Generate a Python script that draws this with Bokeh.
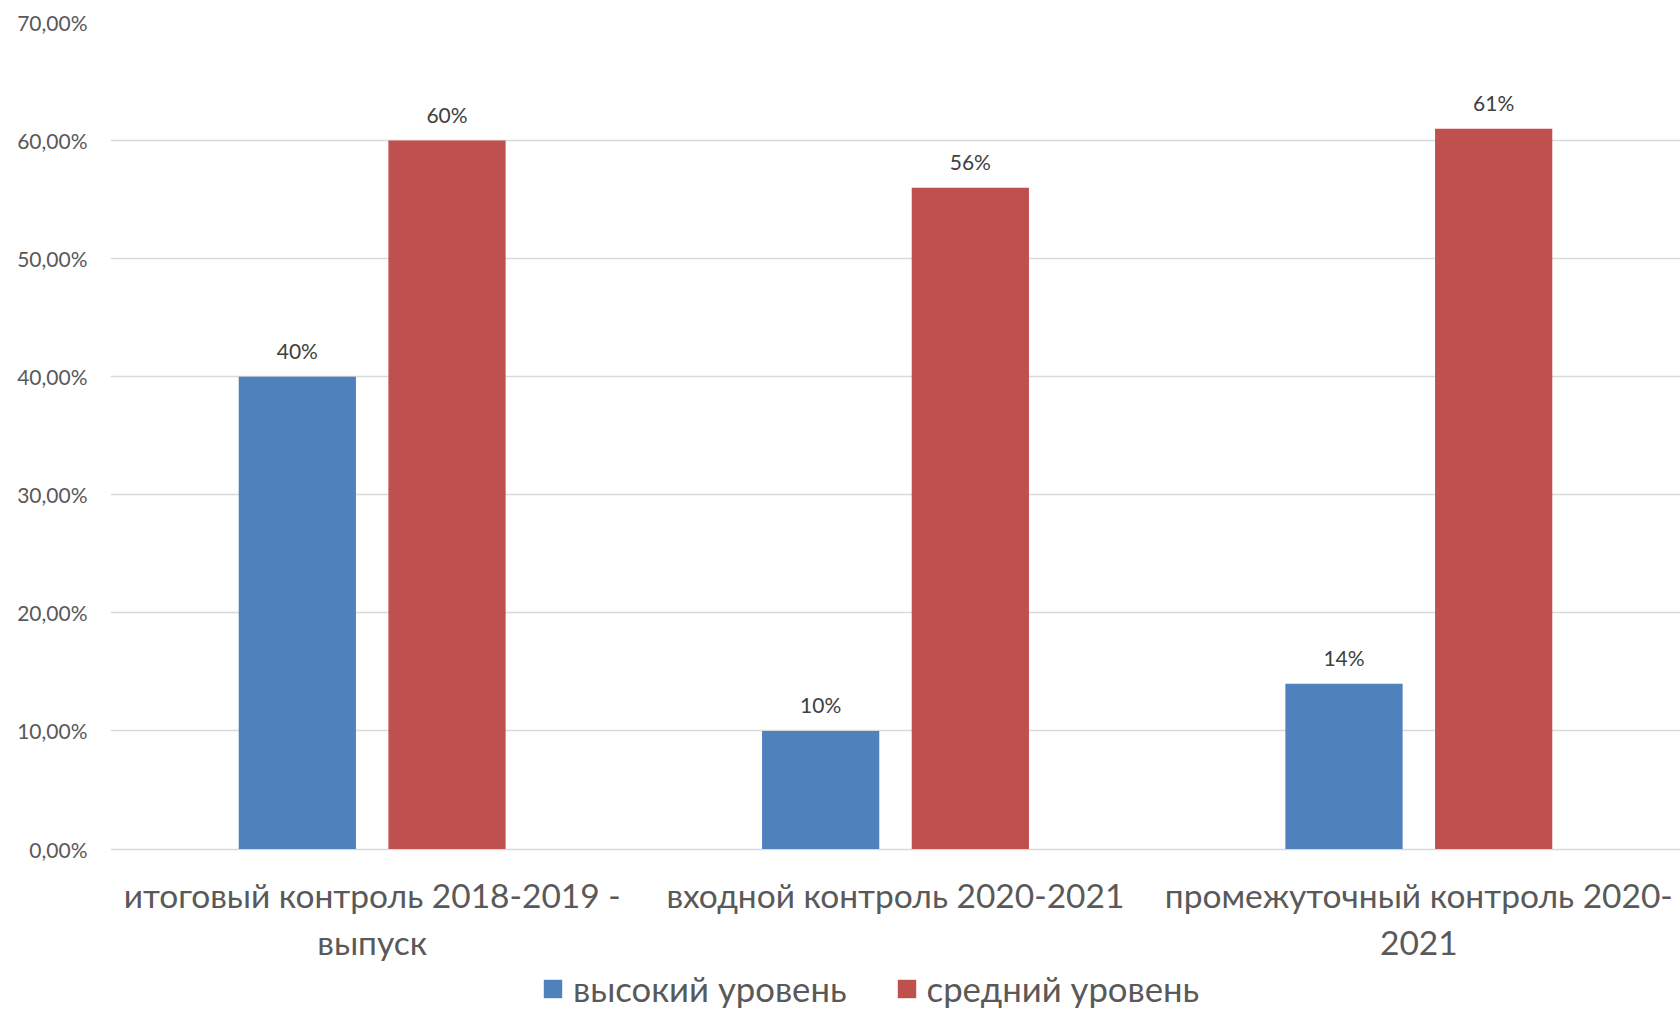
from bokeh.plotting import figure
from bokeh.models import ColumnDataSource, FactorRange, FixedTicker, Legend, LegendItem
from bokeh.transform import dodge
from bokeh.core.properties import value
from bokeh.embed import file_html
from bokeh.resources import INLINE

categories = ["итоговый контроль 2018-2019 -\nвыпуск",
              "входной контроль 2020-2021",
              "промежуточный контроль 2020-\n2021"]
high = [40, 10, 14]
mid = [60, 56, 61]
series_names = ["высокий уровень", "средний уровень"]
y_ticks = [0, 10, 20, 30, 40, 50, 60, 70]

FONT = "Lato"
BLUE = "#4f81bd"
RED = "#c0504d"

W, H = 1680, 1009
TOP, LEFT = 22.5, 110
ZERO_Y = 848.6
px_per_unit = (ZERO_Y - TOP) / y_ticks[-1]
y_min = -(H - ZERO_Y) / px_per_unit

src = ColumnDataSource(dict(
    cat=categories, high=high, mid=mid, base=[0] * len(categories),
    high_lbl=[f"{v}%" for v in high], mid_lbl=[f"{v}%" for v in mid],
))

p = figure(x_range=FactorRange(*categories), y_range=(y_min, y_ticks[-1]),
           width=W, height=H, output_backend="svg", toolbar_location=None,
           min_border_left=LEFT, min_border_right=0, min_border_top=int(TOP),
           min_border_bottom=0)
p.outline_line_color = None

r1 = p.vbar(x=dodge("cat", -0.143, range=p.x_range), top="high", width=0.224,
            source=src, color=BLUE, line_color=None)
r2 = p.vbar(x=dodge("cat", 0.143, range=p.x_range), top="mid", width=0.224,
            source=src, color=RED, line_color=None)

for xo, col, lbl in [(-0.143, "high", "high_lbl"), (0.143, "mid", "mid_lbl")]:
    p.text(x=dodge("cat", xo, range=p.x_range), y=col, text=lbl, source=src,
           text_align="center", text_baseline="bottom", y_offset=-14,
           text_font=value(FONT), text_font_size="21px", text_color="#404040")

# category labels under the zero line
p.text(x="cat", y="base", text="cat", source=src,
       text_align="center", text_baseline="top", y_offset=26,
       text_font=value(FONT), text_font_size="33.5px", text_color="#595959",
       text_line_height=1.17)

p.yaxis.ticker = FixedTicker(ticks=y_ticks)
p.yaxis.major_label_overrides = {t: f"{t:.2f}".replace(".", ",") + "%" for t in y_ticks}
p.yaxis.axis_line_color = None
p.yaxis.major_tick_line_color = None
p.yaxis.minor_tick_line_color = None
p.yaxis.major_label_text_font = FONT
p.yaxis.major_label_text_font_size = "21px"
p.yaxis.major_label_text_color = "#595959"
p.yaxis.major_label_standoff = 17

p.xaxis.visible = False

p.xgrid.grid_line_color = None
p.ygrid.grid_line_color = "#d9d9d9"
p.ygrid.grid_line_width = 1.5

legend = Legend(items=[LegendItem(label=series_names[0], renderers=[r1]),
                       LegendItem(label=series_names[1], renderers=[r2])],
                orientation="horizontal", location=(431, 0),
                label_text_font=FONT, label_text_font_size="34.7px",
                label_text_color="#595959", glyph_width=23, glyph_height=23,
                label_standoff=9, spacing=48, border_line_color=None,
                background_fill_alpha=0, padding=0, margin=0)
p.add_layout(legend, "center")

open("out.html", "w").write(file_html(p, INLINE))
